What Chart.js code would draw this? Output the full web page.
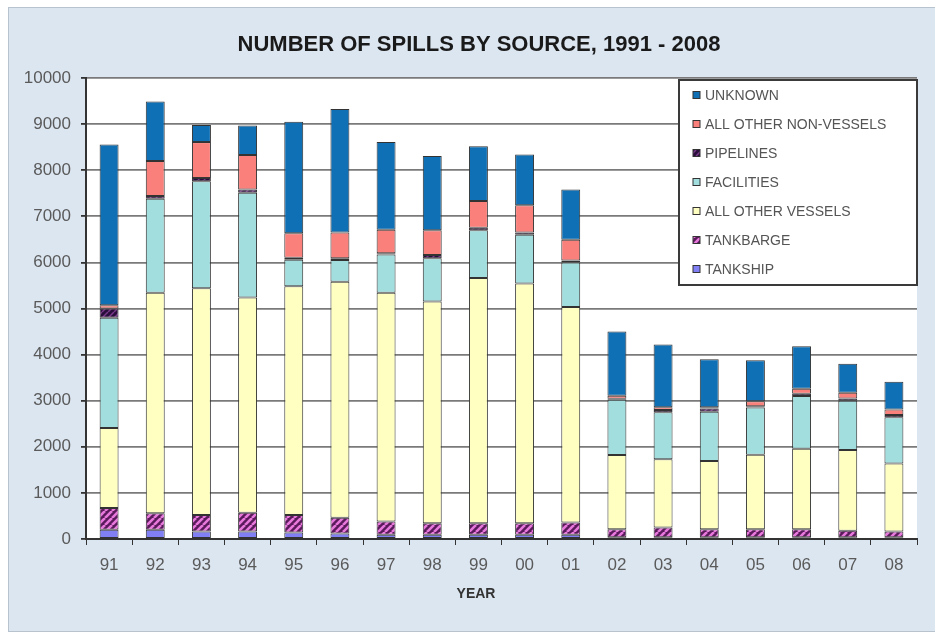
<!DOCTYPE html>
<html><head><meta charset="utf-8">
<script src="https://cdn.jsdelivr.net/npm/chart.js@4.4.0/dist/chart.umd.min.js"></script>
<style>html,body{margin:0;padding:0;background:#fff;overflow:hidden}</style>
</head><body>
<canvas id="c" width="935" height="635"></canvas>
<script>
const titleText = 'NUMBER OF SPILLS BY SOURCE, 1991 - 2008';
const xTitle = 'YEAR';
const years = ['91','92','93','94','95','96','97','98','99','00','01','02','03','04','05','06','07','08'];
const yTicks = [0,1000,2000,3000,4000,5000,6000,7000,8000,9000,10000];
const tankship     = [200,200,160,160,140,120, 90, 90, 90, 90, 90, 40, 40, 40, 40, 40, 40, 40];
const tankbarge    = [470,360,360,410,380,340,290,250,250,250,270,170,210,170,170,170,140,120];
const otherVessels = [1740,4780,4920,4670,4960,5120,4960,4810,5320,5200,4670,1610,1480,1480,1620,1750,1750,1480];
const facilities   = [2390,2040,2320,2270,580,470,830,940,1040,1060,970,1200,1020,1070,1020,1140,1070,1000];
const pipelines    = [200, 60, 70, 70, 40, 40, 30, 70, 50, 50, 40, 20, 50, 70, 30, 50, 50, 50];
const nonVessels   = [70,760,780,750,530,560,510,540,580,590,450, 70, 60, 30,110,110,120,120];
const unknown      = [3490,1290,370,640,2420,2680,1900,1610,1190,1100,1090,1390,1360,1040,890,920,630,600];

function hatch(base, stripe, s, w) {
  const c = document.createElement('canvas'); c.width = s; c.height = s;
  const x = c.getContext('2d');
  x.fillStyle = base; x.fillRect(0, 0, s, s);
  x.strokeStyle = stripe; x.lineWidth = w;
  x.beginPath();
  for (let k = -1; k <= 1; k++) { x.moveTo(k * s, s); x.lineTo(k * s + s, 0); }
  x.stroke();
  return x.createPattern(c, 'repeat');
}

const series = [
  {label: 'TANKSHIP', data: tankship, color: '#8080f4'},
  {label: 'TANKBARGE', data: tankbarge, color: hatch('#5a1a5c', '#e878dc', 7, 2.6)},
  {label: 'ALL OTHER VESSELS', data: otherVessels, color: '#ffffc2'},
  {label: 'FACILITIES', data: facilities, color: '#a2dede'},
  {label: 'PIPELINES', data: pipelines, color: hatch('#2a0e3c', '#7a3a8a', 6, 1.5)},
  {label: 'ALL OTHER NON-VESSELS', data: nonVessels, color: '#fa807c'},
  {label: 'UNKNOWN', data: unknown, color: '#1070b6'}
];

const decor = {
  id: 'decor',
  beforeDraw(chart) {
    const {ctx, chartArea: a} = chart;
    ctx.save();
    ctx.fillStyle = '#ffffff'; ctx.fillRect(0, 0, 935, 635);
    ctx.fillStyle = '#dce6f1'; ctx.fillRect(8, 7, 927, 625);
    ctx.strokeStyle = '#b7c3cf'; ctx.lineWidth = 1; ctx.strokeRect(8.5, 7.5, 930, 624);
    ctx.fillStyle = '#ffffff'; ctx.fillRect(a.left, a.top, a.right - a.left, a.bottom - a.top);
    ctx.textAlign = 'center'; ctx.textBaseline = 'middle';
    ctx.fillStyle = '#1a1a1a'; ctx.font = 'bold 22px Arial, "Liberation Sans"';
    ctx.fillText(titleText, 479, 45);
    ctx.fillStyle = '#333'; ctx.font = 'bold 14px Arial, "Liberation Sans"';
    ctx.fillText(xTitle, 476, 594);
    ctx.restore();
  },
  afterDraw(chart) {
    const ctx = chart.ctx;
    const lx = 679, ly = 80, lw = 238, lh = 205;
    ctx.save();
    ctx.fillStyle = '#ffffff'; ctx.fillRect(lx, ly, lw, lh);
    ctx.strokeStyle = '#3a3a3a'; ctx.lineWidth = 2; ctx.strokeRect(lx, ly, lw, lh);
    const ds = chart.data.datasets.slice().reverse();
    ctx.font = '14px Arial, "Liberation Sans"';
    ctx.textAlign = 'left'; ctx.textBaseline = 'middle';
    ds.forEach((d, i) => {
      const y = 95 + i * 29;
      ctx.fillStyle = d.backgroundColor;
      ctx.fillRect(693, y - 3.5, 7, 7);
      ctx.strokeStyle = '#333'; ctx.lineWidth = 1;
      ctx.strokeRect(693, y - 3.5, 7, 7);
      ctx.fillStyle = '#555';
      ctx.fillText(d.label, 705, y + 1);
    });
    ctx.restore();
  }
};

new Chart(document.getElementById('c'), {
  type: 'bar',
  data: {
    labels: years,
    datasets: series.map(s => ({
      label: s.label, data: s.data, backgroundColor: s.color,
      borderColor: '#333', borderWidth: 1, borderSkipped: false,
      barPercentage: 0.41, categoryPercentage: 1
    }))
  },
  options: {
    responsive: false, animation: false, devicePixelRatio: 1,
    layout: {padding: {top: 78, right: 18, left: 0, bottom: 0}},
    plugins: {legend: {display: false}, title: {display: false}, tooltip: {enabled: false}},
    scales: {
      x: {
        stacked: true,
        grid: {display: true, drawOnChartArea: false, tickLength: 6, tickColor: '#333', offset: true},
        border: {color: '#333', width: 2},
        ticks: {color: '#5a5a5a', font: {family: 'Arial, "Liberation Sans"', size: 17}, padding: 10, maxRotation: 0},
        afterFit(s) { s.height = 96; }
      },
      y: {
        stacked: true, min: 0, max: 10000,
        afterBuildTicks(s) { s.ticks = yTicks.map(v => ({value: v})); },
        grid: {color: '#7a7a7a', lineWidth: 1.8, tickLength: 5, tickColor: '#333'},
        border: {color: '#333', width: 2},
        ticks: {color: '#5a5a5a', font: {family: 'Arial, "Liberation Sans"', size: 17}, padding: 10,
                callback: v => String(v)},
        afterFit(s) { s.width = 86; }
      }
    }
  },
  plugins: [decor]
});
</script>
</body></html>
